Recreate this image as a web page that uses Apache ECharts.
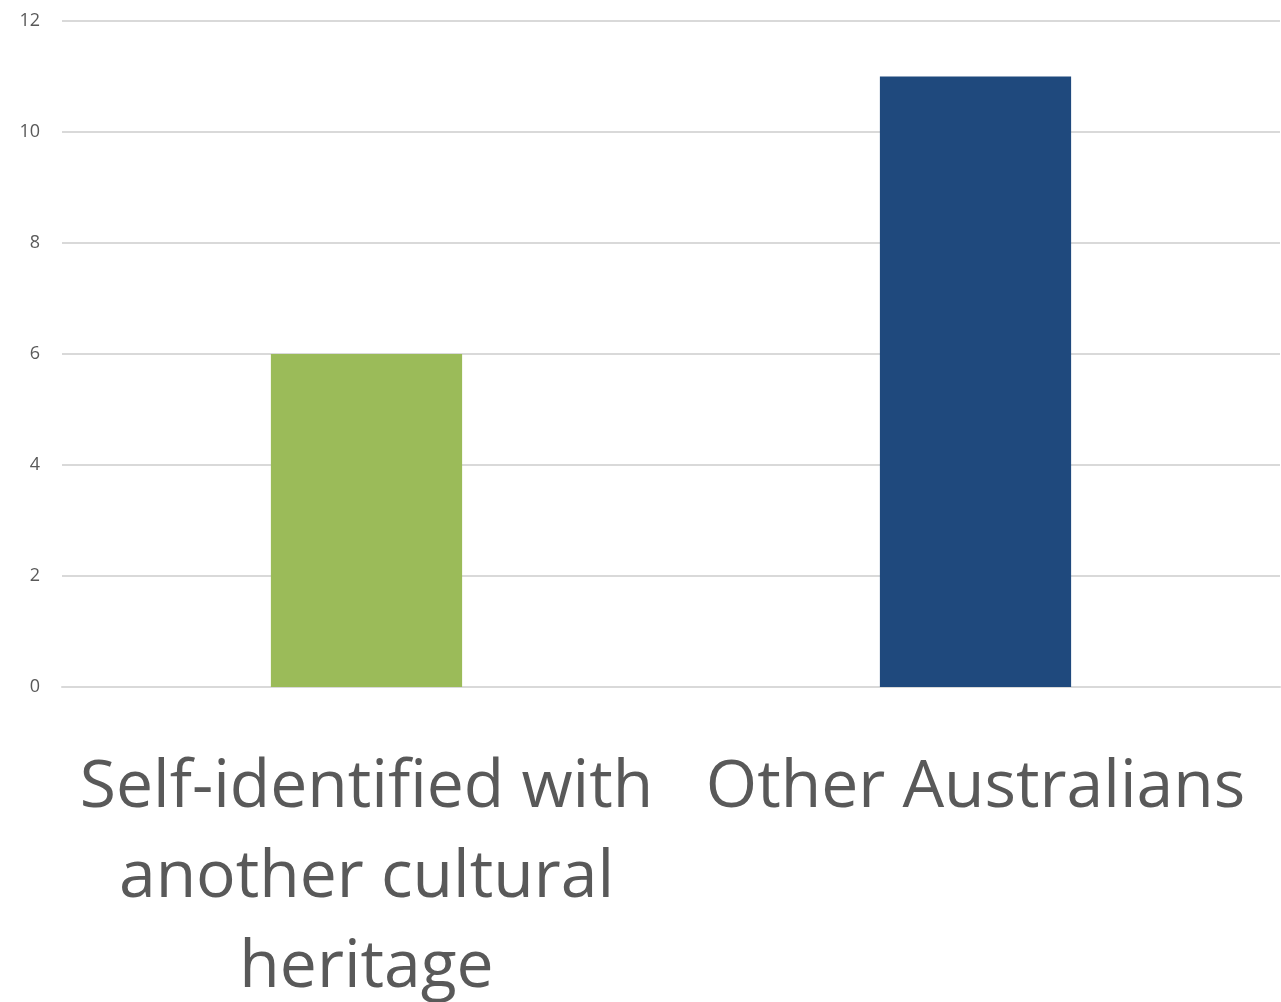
<!DOCTYPE html>
<html>
<head>
<meta charset="utf-8">
<script src="https://cdn.jsdelivr.net/npm/echarts@6/dist/echarts.min.js"></script>
<style>
html,body{margin:0;padding:0;background:#fff;overflow:hidden;}
#chart{width:1281px;height:1002px;}
</style>
</head>
<body>
<div id="chart"></div>
<script>
const categories = ["Self-identified with another cultural heritage", "Other Australians"];
const categoryLabels = ["Self-identified with\nanother cultural\nheritage", "Other Australians"];
const values = [6, 11];
const barColors = ["#9BBB59", "#1F497D"];
const yTicks = [0, 2, 4, 6, 8, 10, 12];

const chart = echarts.init(document.getElementById('chart'), null, { width: 1281, height: 1002 });
chart.setOption({
  animation: false,
  grid: { left: 62, width: 1218, top: 21, height: 666, containLabel: false, outerBoundsMode: 'none' },
  xAxis: {
    type: 'category',
    data: categories,
    axisLine: { show: true, lineStyle: { color: '#d9d9d9', width: 2 } },
    axisTick: { show: false },
    axisLabel: {
      interval: 0,
      margin: 56,
      fontFamily: 'Open Sans',
      fontSize: 66,
      lineHeight: 90,
      color: '#595959',
      formatter: function (v, i) { return categoryLabels[i]; }
    }
  },
  yAxis: {
    type: 'value',
    min: yTicks[0],
    max: yTicks[yTicks.length - 1],
    interval: 2,
    axisLine: { show: false },
    axisTick: { show: false },
    splitLine: { lineStyle: { color: '#d9d9d9', width: 2 } },
    axisLabel: { margin: 22, fontFamily: 'Open Sans', fontSize: 18, color: '#595959' }
  },
  series: [{
    type: 'bar',
    barWidth: '31.4%',
    data: values.map((v, i) => ({ value: v, itemStyle: { color: barColors[i] } }))
  }]
});
</script>
</body>
</html>
